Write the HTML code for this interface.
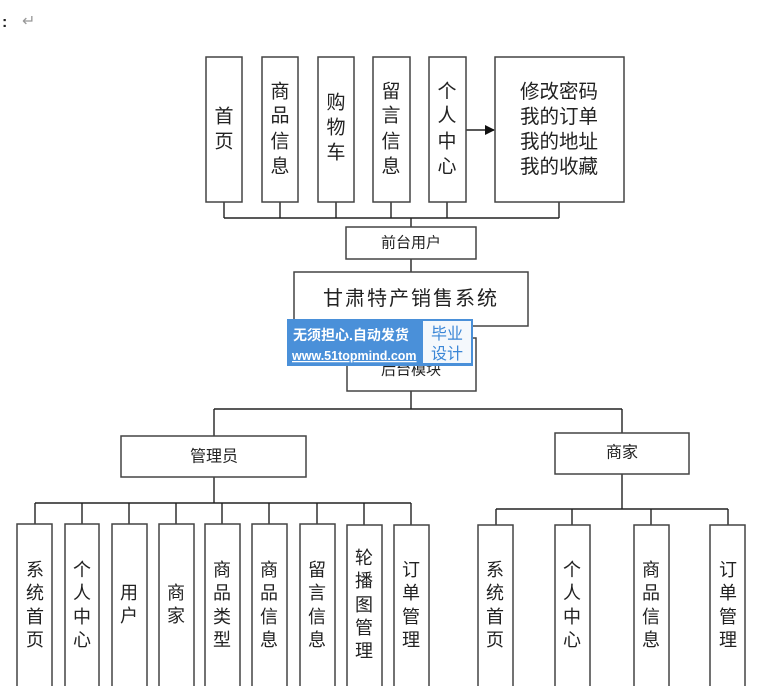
<!DOCTYPE html>
<html><head><meta charset="utf-8"><style>
html,body{margin:0;padding:0;background:#fff;}
svg{display:block;}
text{font-family:"Liberation Sans","Noto Sans CJK SC",sans-serif;fill:#222;}
</style></head><body>
<svg width="761" height="686" viewBox="0 0 761 686" xmlns="http://www.w3.org/2000/svg">
<defs><marker id="ar" markerWidth="10" markerHeight="10" refX="9" refY="5" orient="auto" markerUnits="userSpaceOnUse"><path d="M0,0 L10,5 L0,10 Z" fill="#111"/></marker></defs>
<text x="2" y="27" font-size="16" font-weight="bold">:</text>
<text x="22" y="26" font-size="16" fill="#999" style="fill:#999">↵</text>
<g stroke="#222" stroke-width="1.4" fill="none">
<!-- top connectors -->
<path d="M224 202V218M280 202V218M336 202V218M391 202V218M447 202V218M559 202V218M224 218H559M411 218V227M411 259V272"/>
<path d="M466 130H494" marker-end="url(#ar)"/>
<!-- middle -->
<path d="M411 391V409M214 409H622M214 409V436M622 409V433"/>
<!-- admin -->
<path d="M214 477V503M35 503H411"/>
<path d="M35 503V524M82 503V524M129 503V524M176 503V524M222 503V524M269 503V524M317 503V524M364 503V525M411 503V525"/>
<!-- merchant -->
<path d="M622 474V509M496 509H728M496 509V525M572 509V525M651 509V525M728 509V525"/>
</g>
<g stroke="#444" stroke-width="1.5" fill="#fff">
<rect x="206" y="57" width="36" height="145"/>
<rect x="262" y="57" width="36" height="145"/>
<rect x="318" y="57" width="36" height="145"/>
<rect x="373" y="57" width="37" height="145"/>
<rect x="429" y="57" width="37" height="145"/>
<rect x="495" y="57" width="129" height="145"/>
<rect x="346" y="227" width="130" height="32"/>
<rect x="294" y="272" width="234" height="54"/>
<rect x="347" y="338" width="129" height="53"/>
<rect x="121" y="436" width="185" height="41"/>
<rect x="555" y="433" width="134" height="41"/>
<rect x="17" y="524" width="35" height="170"/>
<rect x="65" y="524" width="34" height="170"/>
<rect x="112" y="524" width="35" height="170"/>
<rect x="159" y="524" width="35" height="170"/>
<rect x="205" y="524" width="35" height="170"/>
<rect x="252" y="524" width="35" height="170"/>
<rect x="300" y="524" width="35" height="170"/>
<rect x="347" y="525" width="35" height="170"/>
<rect x="394" y="525" width="35" height="170"/>
<rect x="478" y="525" width="35" height="170"/>
<rect x="555" y="525" width="35" height="170"/>
<rect x="634" y="525" width="35" height="170"/>
<rect x="710" y="525" width="35" height="170"/>
</g>
<g font-size="19" text-anchor="middle" dominant-baseline="central">
<text x="224" y="117">首</text><text x="224" y="142">页</text>
<text x="280" y="92">商</text><text x="280" y="116">品</text><text x="280" y="142">信</text><text x="280" y="167">息</text>
<text x="336" y="103">购</text><text x="336" y="128">物</text><text x="336" y="153">车</text>
<text x="391" y="92">留</text><text x="391" y="116">言</text><text x="391" y="142">信</text><text x="391" y="167">息</text>
<text x="447" y="92">个</text><text x="447" y="116">人</text><text x="447" y="142">中</text><text x="447" y="167">心</text>
<text x="559" y="92" font-size="19.5">修改密码</text>
<text x="559" y="117" font-size="19.5">我的订单</text>
<text x="559" y="142" font-size="19.5">我的地址</text>
<text x="559" y="167" font-size="19.5">我的收藏</text>
<text x="411" y="243" font-size="15">前台用户</text>
<text x="411" y="299" font-size="20" letter-spacing="2">甘肃特产销售系统</text>
<text x="411" y="370" font-size="15">后台模块</text>
<text x="214" y="457" font-size="16">管理员</text>
<text x="622" y="453" font-size="16">商家</text>
</g>
<g font-size="18" text-anchor="middle" dominant-baseline="central">
<text x="35" y="570">系</text><text x="35" y="593">统</text><text x="35" y="617">首</text><text x="35" y="640">页</text>
<text x="82" y="570">个</text><text x="82" y="593">人</text><text x="82" y="617">中</text><text x="82" y="640">心</text>
<text x="129" y="593">用</text><text x="129" y="616">户</text>
<text x="176" y="593">商</text><text x="176" y="616">家</text>
<text x="222" y="570">商</text><text x="222" y="593">品</text><text x="222" y="617">类</text><text x="222" y="640">型</text>
<text x="269" y="570">商</text><text x="269" y="593">品</text><text x="269" y="617">信</text><text x="269" y="640">息</text>
<text x="317" y="570">留</text><text x="317" y="593">言</text><text x="317" y="617">信</text><text x="317" y="640">息</text>
<text x="364" y="558">轮</text><text x="364" y="581">播</text><text x="364" y="605">图</text><text x="364" y="628">管</text><text x="364" y="651">理</text>
<text x="411" y="570">订</text><text x="411" y="593">单</text><text x="411" y="617">管</text><text x="411" y="640">理</text>
<text x="495" y="570">系</text><text x="495" y="593">统</text><text x="495" y="617">首</text><text x="495" y="640">页</text>
<text x="572" y="570">个</text><text x="572" y="593">人</text><text x="572" y="617">中</text><text x="572" y="640">心</text>
<text x="651" y="570">商</text><text x="651" y="593">品</text><text x="651" y="617">信</text><text x="651" y="640">息</text>
<text x="728" y="570">订</text><text x="728" y="593">单</text><text x="728" y="617">管</text><text x="728" y="640">理</text>
</g>
<!-- watermark -->
<rect x="287" y="319" width="186" height="47" fill="#4a90d9"/>
<rect x="423" y="321" width="48" height="42" fill="#f4f8fc"/>
<text x="293" y="340" font-size="14" font-weight="bold" style="fill:#fff">无须担心.自动发货</text>
<text x="292" y="360" font-size="12.5" font-weight="bold" style="fill:#fff;text-decoration:underline">www.51topmind.com</text>
<text x="447" y="339" font-size="16" text-anchor="middle" style="fill:#3a86d6">毕业</text>
<text x="447" y="359" font-size="16" text-anchor="middle" style="fill:#3a86d6">设计</text>
</svg>
</body></html>
